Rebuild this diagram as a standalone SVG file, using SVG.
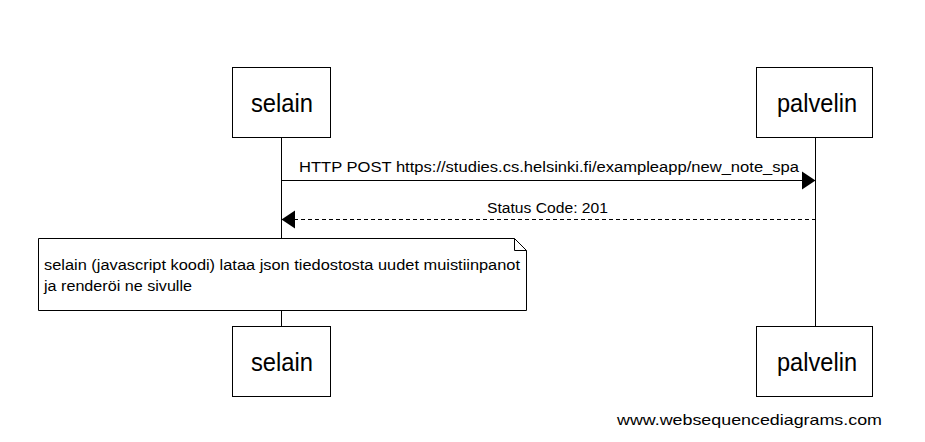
<svg xmlns="http://www.w3.org/2000/svg" width="925" height="442" viewBox="0 0 925 442">
<style>
.box{fill:#fff;stroke:#000;stroke-width:1}
.life{stroke:#000;stroke-width:1}
.actor{font-family:"Liberation Sans",Arial,sans-serif;font-size:25px;fill:#000}
.msg{font-family:"Liberation Sans",Arial,sans-serif;font-size:14px;fill:#000}
.foot{font-family:"Liberation Sans",Arial,sans-serif;font-size:15px;fill:#000}
</style>
<rect width="925" height="442" fill="#fff"/>
<g id="lifelines">
<line class="life" x1="281.5" y1="138" x2="281.5" y2="326"/>
<line class="life" x1="815.5" y1="138" x2="815.5" y2="326"/>
</g>
<g id="connectors">
<line x1="281.5" y1="180.5" x2="803" y2="180.5" stroke="#000" stroke-width="1"/>
<polygon points="815.5,180.5 802,171.5 802,189.5" fill="#000"/>
<text class="msg" x="299" y="172" textLength="500" lengthAdjust="spacingAndGlyphs">HTTP POST https://studies.cs.helsinki.fi/exampleapp/new_note_spa</text>
<line x1="294" y1="219.5" x2="815.5" y2="219.5" stroke="#000" stroke-width="1" stroke-dasharray="4,3"/>
<polygon points="281.5,219.5 295,210.5 295,228.5" fill="#000"/>
<text class="msg" x="487" y="213" textLength="121" lengthAdjust="spacingAndGlyphs">Status Code: 201</text>
</g>
<g id="selain-top">
<rect class="box" x="232.5" y="67.5" width="98" height="70"/>
<text class="actor" x="251" y="112" textLength="62" lengthAdjust="spacingAndGlyphs">selain</text>
</g>
<g id="palvelin-top">
<rect class="box" x="756.5" y="67.5" width="116" height="70"/>
<text class="actor" x="777" y="112" textLength="80" lengthAdjust="spacingAndGlyphs">palvelin</text>
</g>
<g id="note">
<path d="M38.5,238.5 H514.5 L526.5,250.5 V310.5 H38.5 Z M514.5,238.5 V250.5 H526.5" fill="#fff" stroke="#000" stroke-width="1"/>
<text class="msg" x="44" y="270" textLength="476" lengthAdjust="spacingAndGlyphs">selain (javascript koodi) lataa json tiedostosta uudet muistiinpanot</text>
<text class="msg" x="44" y="291" textLength="148" lengthAdjust="spacingAndGlyphs">ja renderöi ne sivulle</text>
</g>
<g id="selain-bottom">
<rect class="box" x="232.5" y="326.5" width="98" height="70"/>
<text class="actor" x="251" y="371" textLength="62" lengthAdjust="spacingAndGlyphs">selain</text>
</g>
<g id="palvelin-bottom">
<rect class="box" x="756.5" y="326.5" width="116" height="70"/>
<text class="actor" x="777" y="371" textLength="80" lengthAdjust="spacingAndGlyphs">palvelin</text>
</g>
<text class="foot" x="617" y="425" textLength="265" lengthAdjust="spacingAndGlyphs">www.websequencediagrams.com</text>
</svg>
